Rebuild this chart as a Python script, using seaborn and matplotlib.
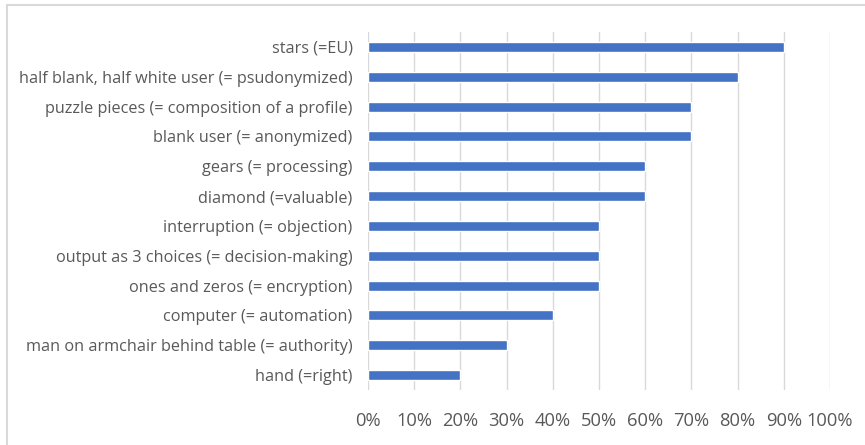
import matplotlib
matplotlib.use("Agg")
import matplotlib.pyplot as plt
from matplotlib.patches import Rectangle
from matplotlib.ticker import FuncFormatter
import seaborn as sns
import pandas as pd

categories = [
    "stars (=EU)",
    "half blank, half white user (= psudonymized)",
    "puzzle pieces (= composition of a profile)",
    "blank user (= anonymized)",
    "gears (= processing)",
    "diamond (=valuable)",
    "interruption (= objection)",
    "output as 3 choices (= decision-making)",
    "ones and zeros (= encryption)",
    "computer (= automation)",
    "man on armchair behind table (= authority)",
    "hand (=right)",
]
shares = [0.90, 0.80, 0.70, 0.70, 0.60, 0.60, 0.50, 0.50, 0.50, 0.40, 0.30, 0.20]
x_ticks = [0.0, 0.1, 0.2, 0.3, 0.4, 0.5, 0.6, 0.7, 0.8, 0.9, 1.0]

sns.set_theme(style="white")
plt.rcParams["font.family"] = ["Open Sans", "DejaVu Sans"]

df = pd.DataFrame({"label": categories, "share": shares})

W, H = 865, 445
fig = plt.figure(figsize=(W / 100, H / 100), dpi=100)
ax = fig.add_axes([368 / W, 1 - 390 / H, (830 - 368) / W, (390 - 32) / H])

sns.barplot(data=df, x="share", y="label", orient="h", color="#4472C4",
            saturation=1, width=0.33, ax=ax, zorder=3)

ax.set_xlim(0, 1.0)
ax.set_xticks(x_ticks)
ax.xaxis.set_major_formatter(FuncFormatter(lambda v, _: f"{v * 100:.0f}%"))
ax.grid(axis="x", color="#D9D9D9", linewidth=1.0, zorder=0)
ax.grid(axis="y", visible=False)
for s in ax.spines.values():
    s.set_visible(False)
ax.set_xlabel("")
ax.set_ylabel("")
ax.tick_params(axis="both", length=0, labelcolor="#595959")
ax.tick_params(axis="y", labelsize=11.7, pad=11)
ax.tick_params(axis="x", labelsize=13.2, pad=16)

# outer chart frame
fig.patches.append(Rectangle((7 / W, -0.1), 1.2, 1 - 5 / H + 0.1,
                             transform=fig.transFigure, fill=False,
                             edgecolor="#D9D9D9", linewidth=1.5))

fig.savefig("out.png", dpi=100)
